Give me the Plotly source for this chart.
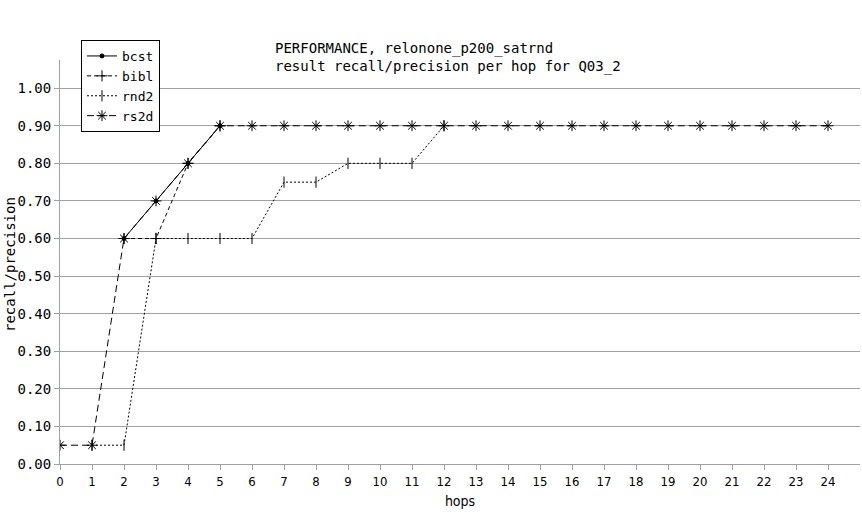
import plotly.graph_objects as go

hops = [0, 1, 2, 3, 4, 5, 6, 7, 8, 9, 10, 11, 12, 13, 14, 15, 16, 17, 18, 19, 20, 21, 22, 23, 24]
bcst = [None, None, 0.60, 0.70, 0.80, 0.90, None, None, None, None, None, None, None,
        None, None, None, None, None, None, None, None, None, None, None, None]
bibl = [None, None, 0.60, 0.60, 0.80, 0.90, None, None, None, None, None, None, None,
        None, None, None, None, None, None, None, None, None, None, None, None]
rnd2 = [None, 0.05, 0.05, 0.60, 0.60, 0.60, 0.60, 0.75, 0.75, 0.80, 0.80, 0.80, 0.90,
        None, None, None, None, None, None, None, None, None, None, None, None]
rs2d = [0.05, 0.05, 0.60, 0.70, 0.80, 0.90, 0.90, 0.90, 0.90, 0.90, 0.90, 0.90, 0.90,
        0.90, 0.90, 0.90, 0.90, 0.90, 0.90, 0.90, 0.90, 0.90, 0.90, 0.90, 0.90]
y_ticks = [0.0, 0.1, 0.2, 0.3, 0.4, 0.5, 0.6, 0.7, 0.8, 0.9, 1.0]

mono = "DejaVu Sans Mono"
narrow = "DejaVu Sans Condensed, Liberation Sans, sans-serif"
grey = "#a0a0a0"

fig = go.Figure()
series = [
    ("bcst", bcst, "solid", "circle", 4),
    ("bibl", bibl, "4px,3px", "cross-thin-open", 8),
    ("rnd2", rnd2, "2px,2px", "line-ns-open", 8),
    ("rs2d", rs2d, "7px,4px", "asterisk-open", 9),
]
for name, vals, dash, sym, size in series:
    fig.add_trace(go.Scatter(
        x=hops, y=vals, name=name, mode="lines+markers", connectgaps=False,
        line=dict(color="black", width=1, dash=dash),
        marker=dict(symbol=sym, size=size, color="black",
                    line=dict(color="black", width=1)),
    ))

fig.update_layout(
    width=862, height=520,
    margin=dict(l=60, r=2, t=60, b=56, autoexpand=False),
    paper_bgcolor="white", plot_bgcolor="white",
    font=dict(family=mono, size=14, color="black"),
    showlegend=True,
    legend=dict(xref="container", yref="container", x=81 / 862, y=1 - 40 / 520,
                xanchor="left", yanchor="top",
                bgcolor="white", bordercolor="black", borderwidth=1,
                font=dict(family=mono, size=13), tracegroupgap=0,
                itemwidth=30),
    xaxis=dict(range=[0, 25], tickmode="array", tickvals=hops,
               ticktext=[str(h) for h in hops],
               showgrid=False, zeroline=False, showline=True, linecolor=grey,
               ticks="outside", ticklen=5, tickcolor=grey,
               tickfont=dict(family=narrow, size=13),
               title=dict(text="hops", font=dict(family=narrow, size=14), standoff=8)),
    yaxis=dict(range=[0, 1.075], tickmode="array", tickvals=y_ticks,
               ticktext=["%.2f" % v for v in y_ticks],
               showgrid=True, gridcolor=grey, gridwidth=1,
               zeroline=False, showline=True, linecolor=grey,
               ticks="outside", ticklen=5, tickcolor=grey,
               tickfont=dict(family=mono, size=14)),
)
fig.add_annotation(
    xref="paper", yref="paper", x=0, y=(464 - 265) / 404, xshift=-50,
    xanchor="center", yanchor="middle", textangle=-90, showarrow=False,
    text="recall/precision", font=dict(family=mono, size=14, color="black"),
)
fig.add_annotation(
    xref="paper", yref="paper", x=0.266, y=(464 - 38) / 404, xanchor="left", yanchor="top",
    showarrow=False, align="left",
    text="PERFORMANCE, relonone_p200_satrnd<br>result recall/precision per hop for Q03_2",
    font=dict(family=mono, size=14, color="black"),
)
fig.write_html("out.html", config={"displayModeBar": False},
               post_script="document.body.style.margin='0';")
